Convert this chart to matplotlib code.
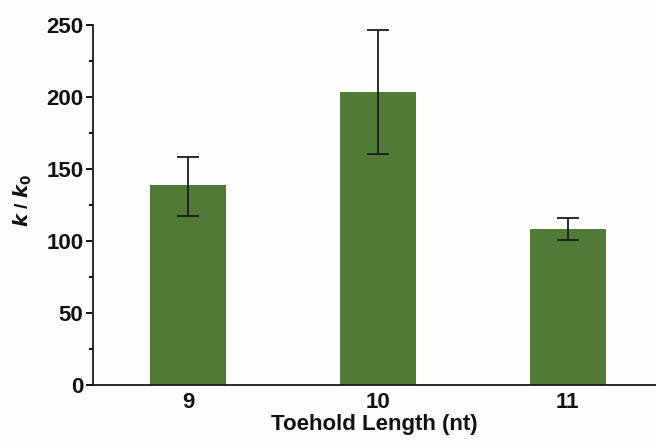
import numpy as np
import matplotlib.pyplot as plt
from matplotlib.ticker import MultipleLocator

plt.rcParams['font.family'] = ['Liberation Sans', 'DejaVu Sans']

# ---------- data ----------
toehold = ['9', '10', '11']
ratio = [138.6, 203.7, 108.1]
err_low = [21.2, 43.3, 7.6]
err_high = [19.9, 42.6, 7.6]

fig = plt.figure(figsize=(6.56, 4.41), dpi=100)
fig.patch.set_facecolor('#fffdfc')
ax = fig.add_axes([93 / 656, 1 - 385 / 441, (656 - 93) / 656, 360 / 441])
ax.set_facecolor('none')

x = np.arange(len(toehold))
ax.bar(x, ratio, width=0.4, color='#527a37', zorder=2)
ax.errorbar(x, ratio, yerr=[err_low, err_high], fmt='none', ecolor='#1a1a1a',
            elinewidth=1.3, capsize=8, capthick=1.3, zorder=3)

ax.set_xlim(-0.5, 2.465)
ax.set_ylim(0, 250)
ax.set_xticks(x)
ax.set_xticklabels(toehold)
ax.yaxis.set_major_locator(MultipleLocator(50))
ax.yaxis.set_minor_locator(MultipleLocator(25))

for s in ['top', 'right']:
    ax.spines[s].set_visible(False)
for s in ['left', 'bottom']:
    ax.spines[s].set_linewidth(1.3)
    ax.spines[s].set_color('#1a1a1a')

ax.tick_params(axis='y', which='major', direction='out', length=5, width=1.3,
               labelsize=16, pad=2, labelcolor='#111111')
ax.tick_params(axis='y', which='minor', direction='out', length=3, width=1.3)
ax.tick_params(axis='x', which='both', length=0, labelsize=16, pad=5,
               labelcolor='#111111')
for lbl in ax.get_xticklabels() + ax.get_yticklabels():
    lbl.set_fontweight('bold')

ax.set_xlabel('Toehold Length (nt)', fontsize=16, fontweight='bold', labelpad=1,
              color='#111111')
ax.set_ylabel(r'$\mathbfit{k}$ / $\mathbfit{k}_\mathbf{0}$', fontsize=14,
              fontweight='bold', color='#111111')
ax.yaxis.set_label_coords(-0.104, 0.514)

fig.savefig('out.png', dpi=100, facecolor=fig.get_facecolor())
